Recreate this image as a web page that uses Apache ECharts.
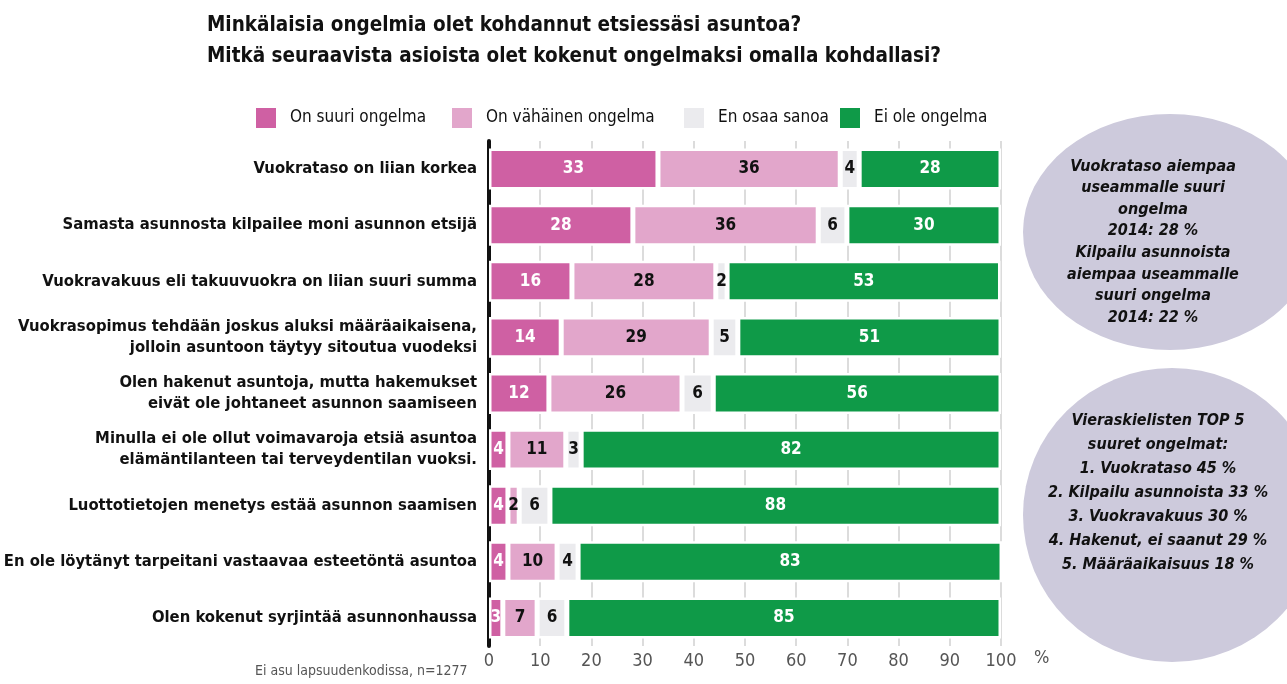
<!DOCTYPE html>
<html>
<head>
<meta charset="utf-8">
<script src="https://cdn.jsdelivr.net/npm/echarts@6/dist/echarts.min.js"></script>
<style>
  html, body { margin: 0; padding: 0; background: #fff; }
  #main { width: 1287px; height: 684px; }
</style>
</head>
<body>
<div id="main"></div>
<script>
const FONT = "'Liberation Sans Narrow', 'DejaVu Sans Condensed', Roboto, sans-serif";

const categories = [
  "Vuokrataso on liian korkea",
  "Samasta asunnosta kilpailee moni asunnon etsijä",
  "Vuokravakuus eli takuuvuokra on liian suuri summa",
  "Vuokrasopimus tehdään joskus aluksi määräaikaisena,\njolloin asuntoon täytyy sitoutua vuodeksi",
  "Olen hakenut asuntoja, mutta hakemukset\neivät ole johtaneet asunnon saamiseen",
  "Minulla ei ole ollut voimavaroja etsiä asuntoa\nelämäntilanteen tai terveydentilan vuoksi.",
  "Luottotietojen menetys estää asunnon saamisen",
  "En ole löytänyt tarpeitani vastaavaa esteetöntä asuntoa",
  "Olen kokenut syrjintää asunnonhaussa"
];
const seriesNames = ["On suuri ongelma", "On vähäinen ongelma", "En osaa sanoa", "Ei ole ongelma"];
const suuri    = [33.0, 28.1, 16.2, 14.1, 11.7, 3.7, 3.7, 3.7, 2.7];
const vahainen = [35.6, 36.2, 28.1, 29.3, 26.0, 11.3, 2.2, 9.6, 6.7];
const eos      = [3.7, 5.6, 2.2, 5.2, 6.1, 3.0, 6.0, 4.1, 5.8];
const eiOle    = [27.7, 30.1, 53.4, 51.4, 56.2, 82.0, 88.1, 82.8, 84.8];
const xTicks = [0, 10, 20, 30, 40, 50, 60, 70, 80, 90, 100];

const colors = ["#cf60a3", "#e2a6cb", "#ebebee", "#0f9a48"];
const labelColors = ["#fff", "#111", "#111", "#fff"];
const legendLeft = [249, 445, 677, 833];

const circle1Text = "Vuokrataso aiempaa\nuseammalle suuri\nongelma\n2014: 28 %\nKilpailu asunnoista\naiempaa useammalle\nsuuri ongelma\n2014: 22 %";
const circle2Text = "Vieraskielisten TOP 5\nsuuret ongelmat:\n1. Vuokrataso 45 %\n2. Kilpailu asunnoista 33 %\n3. Vuokravakuus 30 %\n4. Hakenut, ei saanut 29 %\n5. Määräaikaisuus 18 %";

const chart = echarts.init(document.getElementById("main"));

const series = [suuri, vahainen, eos, eiOle].map((vals, i) => ({
  name: seriesNames[i],
  type: "bar",
  stack: "total",
  data: vals,
  barWidth: "73%",
  itemStyle: { color: colors[i], borderColor: "#fff", borderWidth: 2.5 },
  label: {
    show: true,
    position: "inside",
    color: labelColors[i],
    fontFamily: FONT,
    fontWeight: "bold",
    fontSize: 17,
    formatter: p => Math.round(p.value)
  }
}));

const option = {
  animation: false,
  textStyle: { fontFamily: FONT },
  title: {
    text: "Minkälaisia ongelmia olet kohdannut etsiessäsi asuntoa?\nMitkä seuraavista asioista olet kokenut ongelmaksi omalla kohdallasi?",
    left: 202,
    top: 5,
    textStyle: { fontFamily: FONT, fontWeight: "bold", fontSize: 20.5, lineHeight: 31, color: "#111" }
  },
  legend: seriesNames.map((n, i) => ({
    data: [n],
    left: legendLeft[i],
    top: 101,
    itemWidth: 22,
    itemHeight: 22,
    icon: "rect",
    selectedMode: false,
    textStyle: { fontFamily: FONT, fontSize: 17, color: "#111", padding: [0, 0, 0, 8] }
  })),
  grid: { left: 489, right: 286, top: 141, bottom: 38, containLabel: false, outerBoundsMode: "none" },
  xAxis: {
    type: "value",
    min: xTicks[0],
    max: xTicks[xTicks.length - 1],
    interval: 10,
    axisLine: { show: false },
    axisTick: { show: false },
    axisLabel: { color: "#555", fontFamily: FONT, fontSize: 18, margin: 6 },
    splitLine: { lineStyle: { color: "#dcdcdc", width: 2 } }
  },
  yAxis: {
    type: "category",
    inverse: true,
    data: categories,
    axisLine: { show: true, lineStyle: { color: "#111", width: 4 } },
    axisTick: { show: false },
    axisLabel: {
      color: "#111",
      fontFamily: FONT,
      fontWeight: "bold",
      fontSize: 16.5,
      lineHeight: 21,
      margin: 12,
      align: "right"
    }
  },
  graphic: [
    { type: "circle", x: 1170, y: 232, scaleX: 147 / 118, shape: { cx: 0, cy: 0, r: 118 }, style: { fill: "#cdcadc" }, z: 1 },
    { type: "circle", x: 1172, y: 515, scaleX: 149 / 147, shape: { cx: 0, cy: 0, r: 147 }, style: { fill: "#cdcadc" }, z: 1 },
    { type: "text", x: 1153, y: 242, z: 2, style: { text: circle1Text, font: "italic bold 16px " + FONT, fill: "#111", align: "center", verticalAlign: "middle", lineHeight: 21.6 } },
    { type: "text", x: 1158, y: 493, z: 2, style: { text: circle2Text, font: "italic bold 16px " + FONT, fill: "#111", align: "center", verticalAlign: "middle", lineHeight: 24 } },
    { type: "text", x: 1034, y: 658, style: { text: "%", font: "18px " + FONT, fill: "#555", verticalAlign: "middle" } },
    { type: "text", x: 255, y: 671, style: { text: "Ei asu lapsuudenkodissa, n=1277", font: "14px " + FONT, fill: "#555", verticalAlign: "middle" } }
  ],
  series: series
};

chart.setOption(option);
</script>
</body>
</html>
